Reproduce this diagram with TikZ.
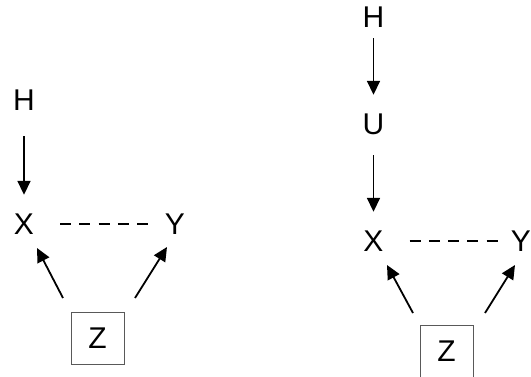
\documentclass[tikz,border=0pt]{standalone}
\usepackage{fontspec}
\setmainfont{Liberation Sans}
\usetikzlibrary{arrows.meta}

\begin{document}
\begin{tikzpicture}[x=1pt,y=-1pt,
varnode/.style={inner sep=0pt, text height=21pt, text depth=0pt, font=\fontsize{30}{30}\selectfont},
boxnode/.style={varnode, draw=black!65, line width=0.8pt, minimum width=53pt, minimum height=52pt},
arr/.style={-{Triangle[length=14pt,width=13pt]}, line width=1.8pt},
link/.style={dash pattern=on 11pt off 8.25pt, line width=1.8pt, shorten <=26pt, shorten >=17pt}
]
    \useasboundingbox (0,0) rectangle (531,377);

    % left graph
    \node [varnode] (h1) at (24,100) {H};
    \node [varnode] (x1) at (24,224) {X};
    \node [varnode] (y1) at (175,224) {Y};
    \node [boxnode] (z1) at (97.5,338) {Z};

    \coordinate (zx1) at (63,298);
    \coordinate (xz1) at (37,248);
    \coordinate (zy1) at (135,298);
    \coordinate (yz1) at (167,247);

    \draw [arr, shorten <=25.5pt, shorten >=18.5pt] (h1) -- (x1);
    \draw [link] (x1) -- (y1);
    \draw [arr] (zx1) -- (xz1);
    \draw [arr] (zy1) -- (yz1);

    % right graph
    \node [varnode] (h2) at (373.5,17.5) {H};
    \node [varnode] (u2) at (373.5,124) {U};
    \node [varnode] (x2) at (373.5,241) {X};
    \node [varnode] (y2) at (521,241) {Y};
    \node [boxnode] (z2) at (446.5,351) {Z};

    \coordinate (zx2) at (413,313);
    \coordinate (xz2) at (387,265);
    \coordinate (zy2) at (485,313);
    \coordinate (yz2) at (515,265);

    \draw [arr, shorten <=10pt, shorten >=18.5pt] (h2) -- (u2);
    \draw [arr, shorten <=20.5pt, shorten >=18.5pt] (u2) -- (x2);
    \draw [link, shorten >=13pt] (x2) -- (y2);
    \draw [arr] (zx2) -- (xz2);
    \draw [arr] (zy2) -- (yz2);

\end{tikzpicture}
\end{document}
